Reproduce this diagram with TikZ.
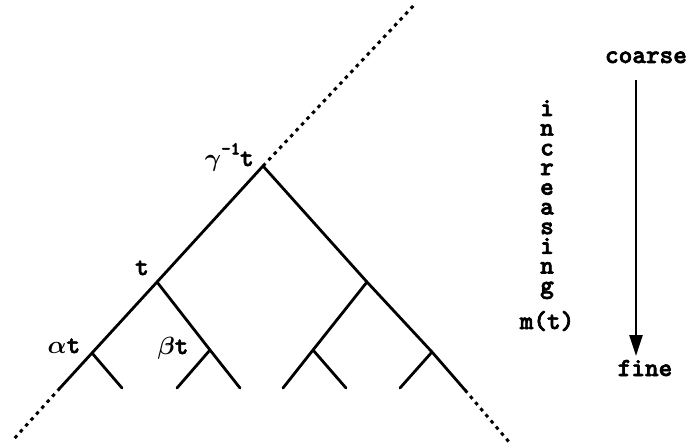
\documentclass[tikz,border=0pt]{standalone}
\usepackage{fontspec}
\newfontfamily\courfont{lmmonolt10-bold.otf}[FakeBold=2.5]
\usetikzlibrary{arrows.meta}
\tikzset{
  lab/.style={font=\courfont\fontsize{26}{26}\selectfont, inner sep=0pt, anchor=base},
  br/.style={line width=2.8pt, line cap=round, line join=round},
  dotline/.style={line width=3pt, dash pattern=on 3.5pt off 4.5pt},
}
\begin{document}
\begin{tikzpicture}[x=1pt, y=-1pt]
\useasboundingbox[fill=white] (0,0) rectangle (692,444);
% branch points
\coordinate (R) at (263,166);
\coordinate (T) at (157,282);
\coordinate (A) at (367,282);
\coordinate (AL) at (92,353);
\coordinate (B) at (210,350);
\coordinate (C) at (313,350);
\coordinate (D) at (432,352);
% leaves
\coordinate (L0) at (60,388);
\coordinate (AL1) at (122,388);
\coordinate (B1) at (177,388);
\coordinate (B2) at (240,388);
\coordinate (C1) at (283,388);
\coordinate (C2) at (346,388);
\coordinate (D1) at (400,388);
\coordinate (R0) at (465,390);
% dotted ends
\coordinate (Lend) at (13,440);
\coordinate (Rend) at (509,442);
\coordinate (Top) at (416,3);
% tree
\draw[br] (L0) -- (AL) -- (T) -- (R) -- (A) -- (D) -- (R0);
\draw[br] (T) -- (B) -- (B2);
\draw[br] (B) -- (B1);
\draw[br] (AL) -- (AL1);
\draw[br] (A) -- (C) -- (C1);
\draw[br] (C) -- (C2);
\draw[br] (D) -- (D1);
\draw[dotline] (L0) -- (Lend);
\draw[dotline] (R0) -- (Rend);
\draw[dotline] (R) -- (Top);
% labels
\node[lab, anchor=base east] (lgam) at (254,166) {{\boldmath$\gamma$}\raisebox{0.45em}{\fontsize{18}{18}\selectfont -1}t};
\node[lab] (lt) at (142,275) {t};
\node[lab] (lat) at (64,353) {{\boldmath$\alpha$}t};
\node[lab] (lbt) at (173,354) {{\boldmath$\beta$}t};
% right side
\node[lab] (coarse) at (646,63) {coarse};
\node[lab] (fine) at (645,376) {fine};
\coordinate (atop) at (636,80);
\coordinate (abot) at (636,356);
\draw[line width=2.6pt, -{Triangle[length=21pt,width=13pt]}] (atop) -- (abot);
\node[lab, anchor=north, align=center, font=\courfont\fontsize{26}{19.7}\selectfont] (inc) at (547,100)
  {i\\n\\c\\r\\e\\a\\s\\i\\n\\g};
\node[lab] (mt) at (547,329) {m(t)};
\end{tikzpicture}
\end{document}
